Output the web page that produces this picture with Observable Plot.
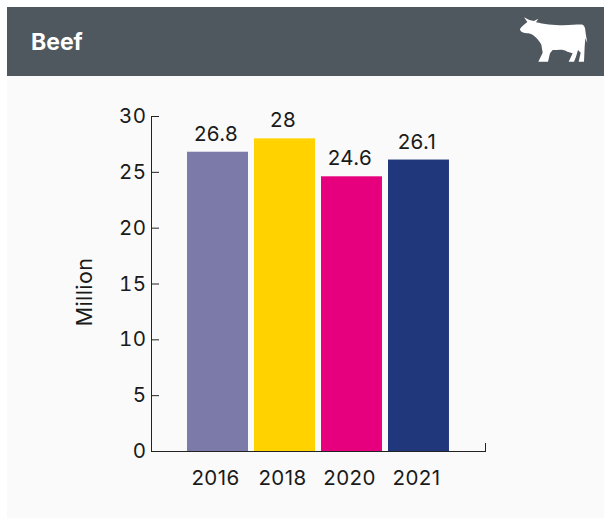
<!DOCTYPE html>
<html><head><meta charset="utf-8">
<script src="https://cdn.jsdelivr.net/npm/d3@7"></script>
<script src="https://cdn.jsdelivr.net/npm/@observablehq/plot@0.6"></script>
<style>
html,body{margin:0;padding:0;background:#fff;overflow:hidden}
#panel{position:absolute;left:7px;top:7px;width:597px;height:511px;background:#fafafa}
#head{position:relative;height:69px;background:#4f575f;color:#fff;font:700 23px Inter,sans-serif}
#head span{position:absolute;left:24px;top:21px}
#head svg{position:absolute;left:503px;top:3px}
#chart{position:absolute;left:0;top:69px}
#chart svg{background:transparent}
</style></head><body>
<div id="panel"><div id="head"><span>Beef</span>
<svg width="84" height="60" viewBox="0 0 252 180"><path fill="#fff" d="M42 22 L58 30 L72 33 L85 26 L78 37 C100 42 130 46 160 46 C185 46 205 43 218 44 C225 48 226 58 227 70 L232 100 L226 85 L224 110 L222 155 L206 155 L212 128 L204 120 L198 140 L192 155 L176 155 L188 130 L172 125 C160 116 145 120 128 120 L120 130 L114 155 L102 155 L108 138 L102 155 L85 155 L98 128 L94 104 C85 88 70 72 55 70 C42 70 30 66 30 57 C35 48 45 42 52 36 Z"/></svg>
</div><div id="chart"></div></div>
<script>
const years = ["2016","2018","2020","2021"];
const values = [26.8,28,24.6,26.1];
const colors = ["#7b7aa8","#ffd200","#e6007e","#21377b"];
const yTicks = [0,5,10,15,20,25,30];
const rows = years.map((year,i)=>({year,value:values[i],color:colors[i]}));
const plot = Plot.plot({
  width:597,height:442,
  marginLeft:144,marginRight:119,marginTop:40,marginBottom:67,
  style:{fontFamily:"Inter, sans-serif",fontSize:"20.5px",letterSpacing:"0.4px",color:"#1a1a1a",background:"transparent"},
  x:{domain:years,range:[174,448],padding:0.09,round:false,label:null},
  y:{domain:[0,30],label:null},
  marks:[
    Plot.barY(rows,{x:"year",y:"value",fill:"color"}),
    Plot.frame({anchor:"left",stroke:"#222"}),
    Plot.frame({anchor:"bottom",stroke:"#222"}),
    Plot.frame({anchor:"right",stroke:"#222",insetTop:327}),
    Plot.axisY({ticks:yTicks,tickSize:-8,tickPadding:13,stroke:"#222",label:null}),
    Plot.axisX({tickSize:0,tickPadding:19,dx:-2.5,label:null}),
    Plot.text(rows,{x:"year",y:"value",text:d=>String(d.value),dy:-18,dx:-2,fontSize:20.5,fill:"#1a1a1a"}),
    Plot.text(["Million"],{frameAnchor:"left",textAnchor:"middle",dx:-66,dy:8,rotate:-90,fontSize:21.5,fill:"#1a1a1a"})
  ]
});
document.getElementById("chart").appendChild(plot);
</script></body></html>
